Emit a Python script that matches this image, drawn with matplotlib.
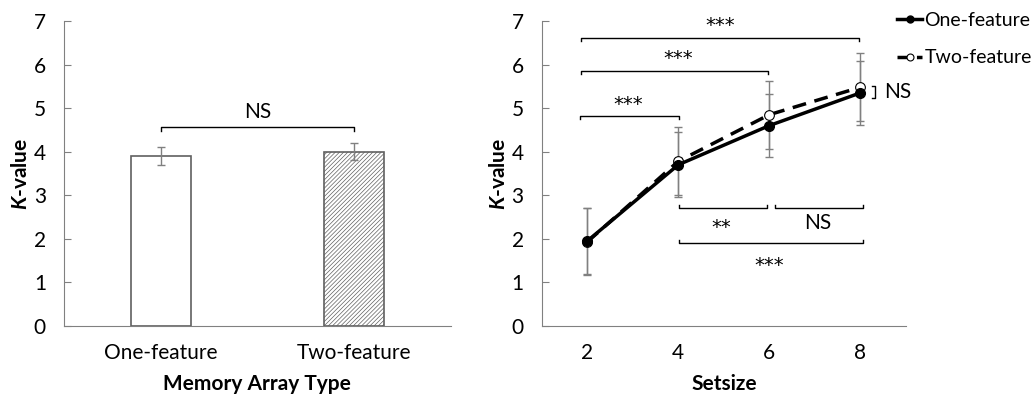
import matplotlib
matplotlib.use("Agg")
import matplotlib.pyplot as plt
import matplotlib.transforms as mtrans
from matplotlib.lines import Line2D
import numpy as np

plt.rcParams['font.family'] = ['Lato', 'DejaVu Sans']
plt.rcParams['mathtext.fontset'] = 'custom'
plt.rcParams['mathtext.bfit'] = 'Lato:italic:bold'
plt.rcParams['mathtext.it'] = 'Lato:italic'
plt.rcParams['mathtext.rm'] = 'Lato'
plt.rcParams['hatch.linewidth'] = 0.5
plt.rcParams['hatch.color'] = '#606060'

# %% data
array_types = ['One-feature', 'Two-feature']
bar_k = [3.9, 4.0]
bar_err = [0.2, 0.2]

setsizes = [2, 4, 6, 8]
one_k = [1.95, 3.70, 4.60, 5.35]
one_err = [0.75, 0.75, 0.73, 0.73]
two_k = [1.93, 3.78, 4.85, 5.48]
two_err = [0.77, 0.78, 0.78, 0.78]

# brackets: (x0, x1, y, tick direction, label, label x, label y)
brackets = [
    (1.86, 7.98, 6.62, -1, '***', 4.92, 7.04),
    (1.86, 5.97, 5.86, -1, '***', 4.0, 6.28),
    (1.84, 4.02, 4.83, -1, '***', 2.9, 5.23),
    (4.02, 5.95, 2.70, 1, '**', 4.95, 2.39),
    (6.13, 8.06, 2.70, 1, 'NS', 7.07, 2.37),
    (4.02, 8.06, 1.90, 1, '***', 6.0, 1.53),
]

grey = '#808080'
fs = 15

fig = plt.figure(figsize=(10.34, 3.97), dpi=100)
ax1 = fig.add_axes([0.0619, 0.179, 0.374, 0.768])
ax2 = fig.add_axes([0.524, 0.179, 0.352, 0.768])


def star_text(ax, x, y, lab):
    if '*' in lab:
        # asterisks sit high in the font, so shift them down onto y
        tr = mtrans.offset_copy(ax.transData, fig=fig, y=-8.2, units='points')
        ax.text(x, y, lab, ha='center', va='baseline', fontsize=14, family='DejaVu Sans',
                transform=tr, clip_on=False)
    else:
        ax.text(x, y, lab, ha='center', va='center', fontsize=fs, clip_on=False)


for ax in (ax1, ax2):
    ax.spines['right'].set_visible(False)
    ax.spines['top'].set_visible(False)
    ax.spines['left'].set_color(grey)
    ax.spines['bottom'].set_color(grey)
    ax.set_ylim(0, 7)
    ax.set_yticks(range(0, 8))
    ax.tick_params(axis='y', direction='in', length=5, color=grey, labelsize=fs, pad=13)
    ax.tick_params(axis='x', length=0, labelsize=fs, pad=12)
    ax.set_ylabel(r'$\mathbfit{K}$-value', fontsize=fs, fontweight='bold', labelpad=2)

# %% left: bar chart
xpos = np.arange(len(array_types))
ax1.bar(xpos[0], bar_k[0], width=0.31, color='white', edgecolor='#606060', linewidth=1.2)
ax1.bar(xpos[1], bar_k[1], width=0.31, color='white', edgecolor='#606060', linewidth=1.2,
        hatch='////////')
ax1.errorbar(xpos, bar_k, yerr=bar_err, fmt='none', ecolor=grey, elinewidth=1, capsize=3)
ax1.set_xlim(-0.5, 1.5)
ax1.set_xticks(xpos)
ax1.set_xticklabels(array_types)
ax1.set_xlabel('Memory Array Type', fontsize=fs, fontweight='bold', labelpad=8)

ax1.plot([0, 0, 1, 1], [4.48, 4.57, 4.57, 4.48], color='black', lw=1)
ax1.text(0.5, 4.68, 'NS', ha='center', va='bottom', fontsize=fs)

# %% right: line chart
ax2.errorbar(setsizes, one_k, yerr=one_err, fmt='none', ecolor=grey, elinewidth=1, capsize=3)
ax2.errorbar(setsizes, two_k, yerr=two_err, fmt='none', ecolor=grey, elinewidth=1, capsize=3)
ax2.plot(setsizes, two_k, color='black', lw=2.5, ls=(0, (4, 2.5)), marker='o', ms=7,
         mfc='white', mec='black', mew=0.8)
ax2.plot(setsizes, one_k, color='black', lw=2.5, marker='o', ms=7, mfc='black')
ax2.set_xlim(1, 9)
ax2.set_xticks(setsizes)
ax2.set_xlabel('Setsize', fontsize=fs, fontweight='bold', labelpad=8)

for x0, x1, y, d, lab, lx, ly in brackets:
    t = 0.08 * d
    ax2.plot([x0, x0, x1, x1], [y + t, y, y, y + t], color='black', lw=1, clip_on=False)
    star_text(ax2, lx, ly, lab)

# small NS bracket between the two lines at setsize 8
ax2.plot([8.25, 8.33, 8.33, 8.25], [5.51, 5.51, 5.23, 5.23], color='black', lw=1, clip_on=False)
ax2.text(8.52, 5.38, 'NS', ha='left', va='center', fontsize=fs)

handles = [
    Line2D([], [], color='black', lw=2.5, marker='o', ms=5, mfc='black'),
    Line2D([], [], color='black', lw=2.5, ls=(0, (4.4, 1.2)), marker='o', ms=5,
           mfc='white', mec='black', mew=0.8),
]
ax2.legend(handles, ['One-feature', 'Two-feature'], loc='upper left',
           bbox_to_anchor=(0.955, 1.055), frameon=False, fontsize=14, handlelength=1.3,
           handletextpad=0.1, labelspacing=1.05, borderaxespad=0)

fig.savefig('out.png', dpi=100)
